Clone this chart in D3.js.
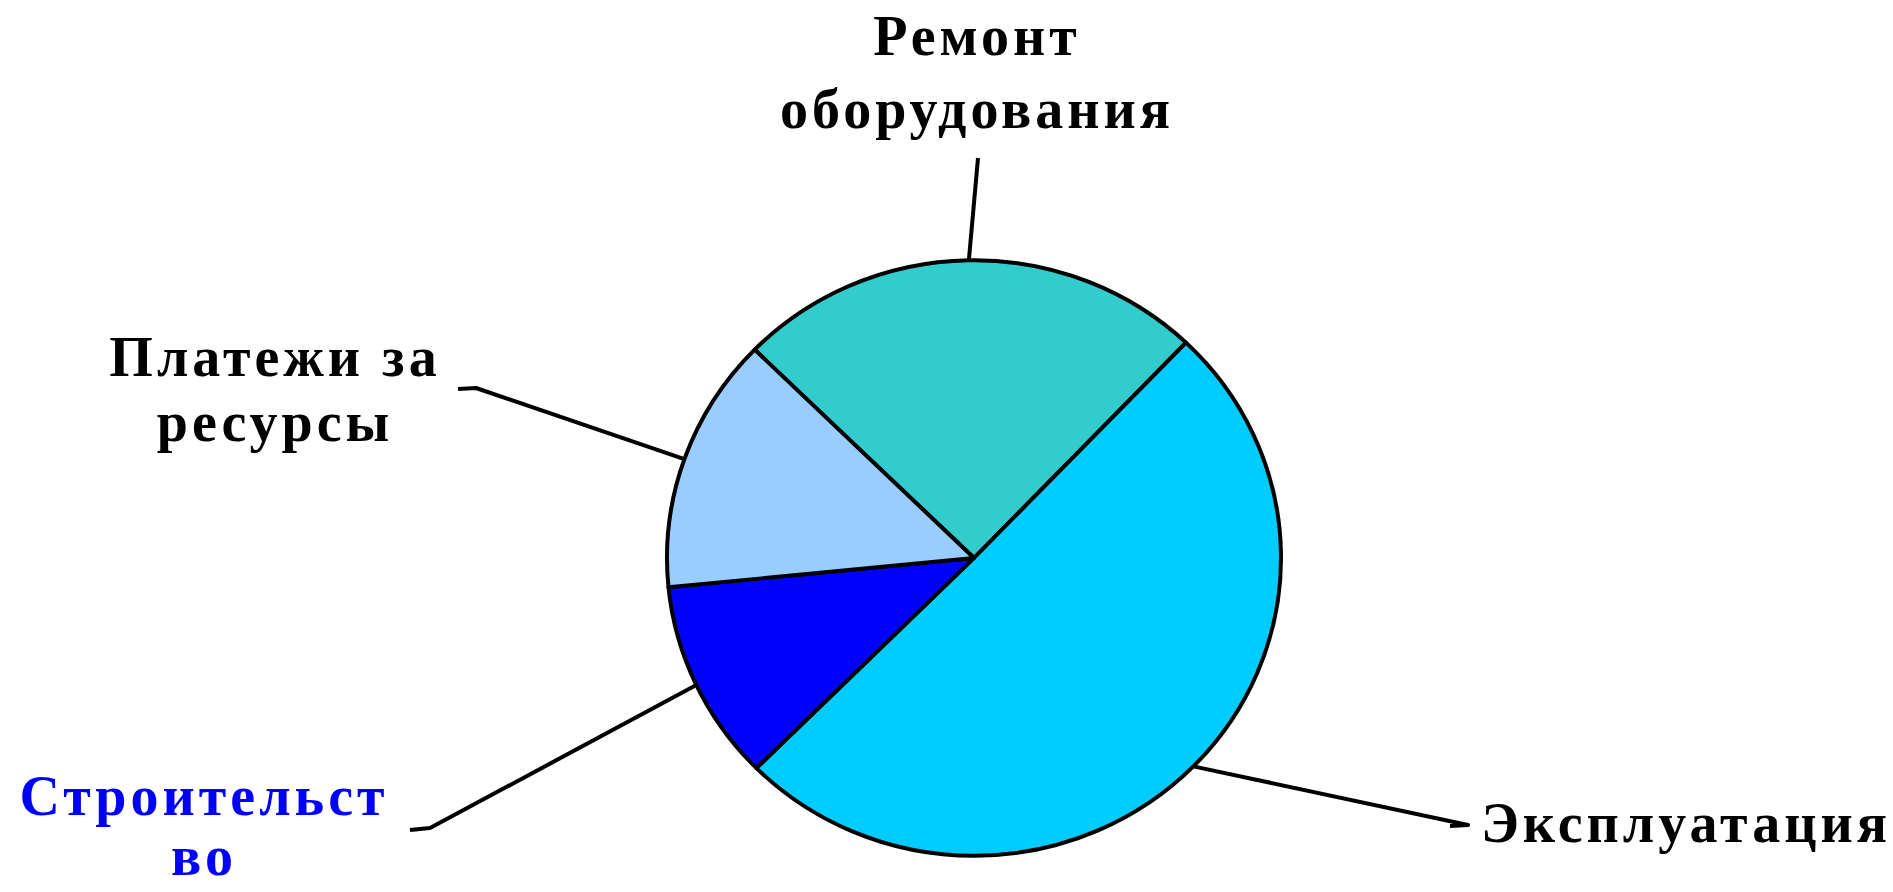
<!DOCTYPE html>
<html lang="ru">
<head>
<meta charset="utf-8">
<title>Структура затрат</title>
<script src="https://cdn.jsdelivr.net/npm/d3@7/dist/d3.min.js"></script>
<style>
  html, body { margin: 0; padding: 0; background: #ffffff; }
  svg { display: block; }
  .label { font-family: "Times New Roman", "Liberation Serif", serif; font-weight: bold; font-size: 56px; letter-spacing: 4px; }
</style>
</head>
<body>
<svg id="chart" width="1893" height="892"></svg>
<script>
// Cost categories, their shares (%) and the wrapped label lines
const categories = ["Ремонт оборудования", "Эксплуатация", "Строительство", "Платежи за ресурсы"];
const shares = [24.8, 50.4, 10.9, 13.9];
const labelLines = [["Ремонт", "оборудования"], ["Эксплуатация"], ["Строительст", "во"], ["Платежи за", "ресурсы"]];
const sliceColors = ["#33cccc", "#00ccff", "#0000ff", "#99ccff"];
const labelColors = ["#000000", "#000000", "#0000ff", "#000000"];

// Layout
const cx = 974, cy = 558, radius = 307, squash = 0.97;
const firstSliceAngle = -45.6 * Math.PI / 180;
// Where each label block sits: centre x, first baseline, line step, and leader end
const labelLayout = [
  { x: 977, y: 55, step: 73, end: [978, 158], tick: null },
  { x: 1686, y: 842, step: 0, end: [1468, 825], tick: [1450, 826] },
  { x: 204, y: 815, step: 60, end: [430, 828], tick: [410, 830] },
  { x: 275, y: 376, step: 65, end: [476, 388], tick: [458, 389] }
];

const svg = d3.select("#chart");

const data = categories.map((c, i) => ({ name: c, value: shares[i], i }));

const pie = d3.pie()
  .value(d => d.value)
  .sort(null)
  .startAngle(firstSliceAngle)
  .endAngle(firstSliceAngle + 2 * Math.PI);

const arcs = pie(data);
const arc = d3.arc().innerRadius(0).outerRadius(radius);

const pieG = svg.append("g")
  .attr("transform", `translate(${cx},${cy}) scale(1,${squash})`);

pieG.selectAll("path")
  .data(arcs)
  .join("path")
  .attr("d", arc)
  .attr("fill", d => sliceColors[d.data.i])
  .attr("stroke", "#000")
  .attr("stroke-width", 4)
  .attr("stroke-linejoin", "round");

// Leader lines from the middle of each slice's rim to its label
const rimPoint = d => {
  const a = (d.startAngle + d.endAngle) / 2;
  return [cx + radius * Math.sin(a), cy - radius * Math.cos(a) * squash];
};

svg.append("g").selectAll("path")
  .data(arcs)
  .join("path")
  .attr("d", d => {
    const L = labelLayout[d.data.i];
    const pts = [rimPoint(d), L.end];
    if (L.tick) pts.push(L.tick);
    return d3.line()(pts);
  })
  .attr("fill", "none")
  .attr("stroke", "#000")
  .attr("stroke-width", 4)
  .attr("stroke-linejoin", "round");

// Category labels
const labels = svg.append("g").selectAll("text")
  .data(arcs)
  .join("text")
  .attr("class", "label")
  .attr("text-anchor", "middle")
  .attr("fill", d => labelColors[d.data.i]);

labels.selectAll("tspan")
  .data(d => labelLines[d.data.i].map((t, k) => ({ t, k, L: labelLayout[d.data.i] })))
  .join("tspan")
  .attr("x", d => d.L.x)
  .attr("y", d => d.L.y + d.k * d.L.step)
  .text(d => d.t);
</script>
</body>
</html>
